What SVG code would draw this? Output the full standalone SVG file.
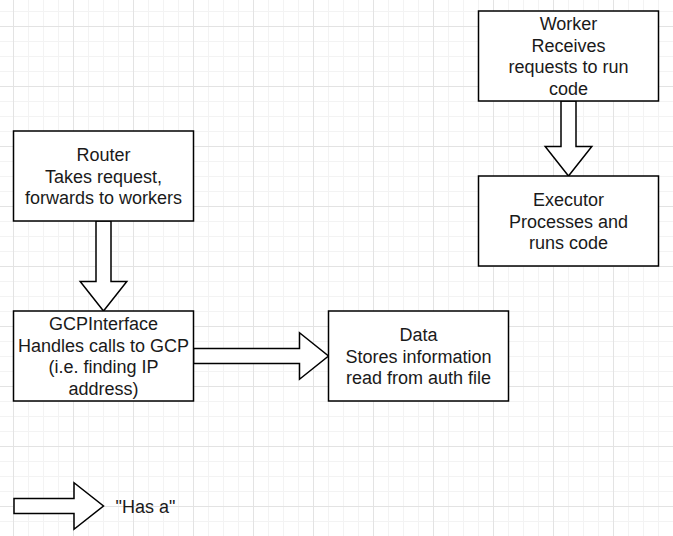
<svg xmlns="http://www.w3.org/2000/svg" width="673" height="536" viewBox="0 0 673 536">
<defs>
<pattern id="grid" x="13" y="26" width="60" height="60" patternUnits="userSpaceOnUse">
<path d="M15.5 0V60M30.5 0V60M45.5 0V60M0 15.5H60M0 30.5H60M0 45.5H60" stroke="#f3f3f3" stroke-width="1" fill="none"/>
<path d="M0.5 0V60M0 0.5H60" stroke="#e3e3e3" stroke-width="1" fill="none"/>
</pattern>
<style>
.box{fill:#fff;stroke:#000;stroke-width:1.5}
.arr{fill:#fff;stroke:#000;stroke-width:1.5;stroke-linejoin:miter}
text{font-family:"Liberation Sans",Arial,sans-serif;font-size:18px;fill:#1a1a1a}
.c{text-anchor:middle}
</style>
</defs>
<rect width="673" height="536" fill="#fff"/>
<rect width="673" height="536" fill="url(#grid)"/>
<g id="connectors">
<polygon class="arr" points="96,221 111,221 111,281.5 126.8,281.5 103.5,311 80.2,281.5 96,281.5"/>
<polygon class="arr" points="561,101 576,101 576,146.5 591.8,146.5 568.5,176 545.2,146.5 561,146.5"/>
<polygon class="arr" points="193.5,348.5 299.5,348.5 299.5,332.7 328.5,356 299.5,379.3 299.5,363.5 193.5,363.5"/>
</g>
<g id="router">
<rect class="box" x="13.5" y="131" width="180" height="90"/>
<text class="c" x="103.5" y="161">Router</text>
<text class="c" x="103.5" y="182.5">Takes request,</text>
<text class="c" x="103.5" y="204">forwards to workers</text>
</g>
<g id="gcpinterface">
<rect class="box" x="13.5" y="311" width="180" height="90"/>
<text class="c" x="103.5" y="330">GCPInterface</text>
<text class="c" x="103.5" y="351.5">Handles calls to GCP</text>
<text class="c" x="103.5" y="373">(i.e. finding IP</text>
<text class="c" x="103.5" y="394.5">address)</text>
</g>
<g id="data">
<rect class="box" x="328.5" y="311" width="180" height="90"/>
<text class="c" x="418.5" y="341">Data</text>
<text class="c" x="418.5" y="362.5">Stores information</text>
<text class="c" x="418.5" y="384">read from auth file</text>
</g>
<g id="worker">
<rect class="box" x="478.5" y="11" width="180" height="90"/>
<text class="c" x="568.5" y="30">Worker</text>
<text class="c" x="568.5" y="51.5">Receives</text>
<text class="c" x="568.5" y="73">requests to run</text>
<text class="c" x="568.5" y="94.5">code</text>
</g>
<g id="executor">
<rect class="box" x="478.5" y="176" width="180" height="90"/>
<text class="c" x="568.5" y="206">Executor</text>
<text class="c" x="568.5" y="227.5">Processes and</text>
<text class="c" x="568.5" y="249">runs code</text>
</g>
<g id="legend">
<polygon class="arr" points="14,498.5 74,498.5 74,482.7 103.5,506 74,529.3 74,513.5 14,513.5"/>
<text x="115.5" y="512.5">"Has a"</text>
</g>
</svg>
